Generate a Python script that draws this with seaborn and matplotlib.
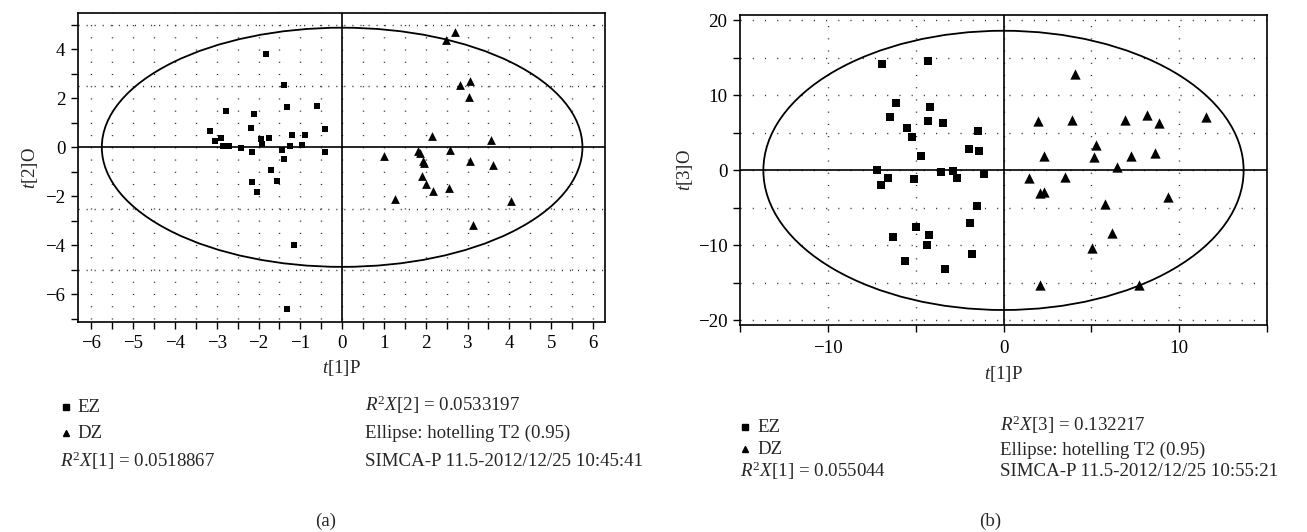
import numpy as np
import pandas as pd
import matplotlib
matplotlib.use("Agg")
import matplotlib.pyplot as plt
import seaborn as sns
from matplotlib.patches import Ellipse
from matplotlib.lines import Line2D
from matplotlib.ticker import MultipleLocator, FuncFormatter

# ---------------- data (panel a) ----------------
a_ez_x = [-1.83, -1.40, -1.31, -0.61, -2.79, -2.12, -3.17, -2.19, -0.40, -2.89, -3.03,
          -1.93, -1.76, -1.21, -0.88, -2.85, -2.71, -1.91, -1.24, -0.95, -2.41, -2.15,
          -1.45, -0.42, -1.40, -1.69, -2.15, -1.55, -2.03, -1.16, -1.31]
a_ez_y = [3.81, 2.54, 1.66, 1.69, 1.49, 1.36, 0.68, 0.80, 0.75, 0.39, 0.27,
          0.35, 0.39, 0.51, 0.51, 0.07, 0.07, 0.15, 0.07, 0.11, -0.02, -0.18,
          -0.10, -0.18, -0.46, -0.91, -1.40, -1.36, -1.81, -3.98, -6.59]
a_dz_x = [2.70, 2.48, 3.06, 2.83, 3.03, 2.15, 3.56, 2.58, 1.81, 1.87, 1.01,
          1.95, 1.93, 3.06, 3.62, 1.91, 2.01, 2.17, 2.55, 1.26, 4.04, 3.12]
a_dz_y = [4.72, 4.37, 2.72, 2.56, 2.04, 0.46, 0.29, -0.11, -0.15, -0.23, -0.34,
          -0.65, -0.55, -0.55, -0.71, -1.17, -1.49, -1.77, -1.65, -2.12, -2.19, -3.18]

# ---------------- data (panel b) ----------------
b_ez_x = [-6.92, -4.31, -6.12, -4.18, -6.48, -4.31, -3.46, -5.51, -5.21, -1.46, -4.69,
          -1.97, -1.37, -7.20, -6.59, -6.99, -5.11, -3.57, -2.88, -2.66, -1.10, -1.50,
          -1.92, -4.99, -6.29, -4.24, -4.37, -5.60, -1.80, -3.34]
b_ez_y = [14.19, 14.59, 9.01, 8.48, 7.15, 6.62, 6.35, 5.69, 4.49, 5.29, 1.97,
          2.90, 2.63, 0.11, -0.96, -1.89, -1.09, -0.16, -0.03, -0.96, -0.42, -4.68,
          -7.07, -7.60, -8.93, -8.66, -9.99, -12.12, -11.19, -13.18]
b_dz_x = [4.05, 1.96, 3.92, 6.94, 8.17, 8.86, 11.50, 5.29, 2.32, 5.13, 7.24, 8.61,
          6.46, 1.48, 3.48, 2.05, 2.32, 9.39, 5.80, 6.20, 5.04, 2.08, 7.74]
b_dz_y = [12.82, 6.53, 6.67, 6.67, 7.33, 6.35, 7.11, 3.35, 1.88, 1.75, 1.97, 2.37,
          0.51, -0.96, -0.82, -3.08, -2.82, -3.61, -4.49, -8.35, -10.30, -15.31, -15.31]

groups = ["EZ", "DZ"]
a_ellipse = (5.75, 4.88)     # semi-axes (t1, t2)
b_ellipse = (13.67, 18.6)    # semi-axes (t1, t3)

a_texts = {"r1": r"$R^2X$[1] = 0.0518867", "r2": r"$R^2X$[2] = 0.0533197",
           "ell": "Ellipse: hotelling T2 (0.95)", "sim": "SIMCA-P 11.5-2012/12/25 10:45:41"}
b_texts = {"r1": r"$R^2X$[1] = 0.055044", "r2": r"$R^2X$[3] = 0.132217",
           "ell": "Ellipse: hotelling T2 (0.95)", "sim": "SIMCA-P 11.5-2012/12/25 10:55:21"}

sns.set_style("ticks")
plt.rcParams["font.family"] = ["Liberation Serif", "DejaVu Serif"]
plt.rcParams["mathtext.fontset"] = "custom"
plt.rcParams["mathtext.rm"] = "Liberation Serif"
plt.rcParams["mathtext.it"] = "Liberation Serif:italic"
plt.rcParams["axes.unicode_minus"] = True

FS = 13.6
fig = plt.figure(figsize=(13.07, 5.32), dpi=100)
W, H = 1307, 532

def px_axes(l, t, r, b):
    return fig.add_axes([l / W, 1 - b / H, (r - l) / W, (b - t) / H])

axA = px_axes(78, 13, 605, 322)
axB = px_axes(740, 15, 1267, 325)

def make_df(ex, ey, dx, dy):
    return pd.DataFrame({"x": list(ex) + list(dx), "y": list(ey) + list(dy),
                         "group": ["EZ"] * len(ex) + ["DZ"] * len(dx)})

dfA = make_df(a_ez_x, a_ez_y, a_dz_x, a_dz_y)
dfB = make_df(b_ez_x, b_ez_y, b_dz_x, b_dz_y)

dot_color = "#333333"

def style_axes(ax, xlim, ylim):
    ax.set_xlim(*xlim)
    ax.set_ylim(*ylim)
    for s in ax.spines.values():
        s.set_visible(True)
        s.set_color("black")
        s.set_linewidth(1.2)
    ax.tick_params(axis="both", direction="out", length=5, width=1, labelsize=FS,
                   colors="black", top=False, right=False, pad=4)
    ax.axhline(0, color="black", lw=1.2, zorder=2)
    ax.axvline(0, color="black", lw=1.2, zorder=2)

def fmt_int(v, pos):
    if abs(v - round(v)) < 1e-6:
        return f"{int(round(v))}".replace("-", "\u2212")
    return ""

# ---------- panel a ----------
xlimA, ylimA = (-6.32, 6.29), (-7.13, 5.48)
style_axes(axA, xlimA, ylimA)
xs = np.arange(-6.0, 6.01, 0.5)
axA.vlines(xs, -7.0, ylimA[1], colors=dot_color, lw=1.0, linestyles=[(0, (0.8, 8.0))], zorder=1)
axA.hlines([-5, -2.5, 2.5, 5], xlimA[0], xlimA[1], colors=dot_color, lw=1.0,
           linestyles=[(0, (0.8, 5.0))], zorder=1)
axA.add_patch(Ellipse((0, 0), 2 * a_ellipse[0], 2 * a_ellipse[1], fill=False,
                      ec="black", lw=1.3, zorder=3))
sns.scatterplot(data=dfA[dfA.group == "EZ"], x="x", y="y", marker="s", color="black",
                s=18, linewidth=0, ax=axA, legend=False, zorder=4)
sns.scatterplot(data=dfA[dfA.group == "DZ"], x="x", y="y", marker="^", color="black",
                s=40, linewidth=0, ax=axA, legend=False, zorder=4)
axA.xaxis.set_major_locator(MultipleLocator(0.5))
axA.xaxis.set_major_formatter(FuncFormatter(fmt_int))
axA.yaxis.set_major_locator(MultipleLocator(1))
axA.yaxis.set_major_formatter(FuncFormatter(lambda v, p: fmt_int(v, p) if round(v) % 2 == 0 else ""))
axA.set_xlabel(r"$t$[1]P", fontsize=FS, labelpad=5)
axA.set_ylabel(r"$t$[2]O", fontsize=FS, labelpad=4)

# ---------- panel b ----------
xlimB, ylimB = (-15.0, 15.0), (-20.6, 20.7)
style_axes(axB, xlimB, ylimB)
axB.tick_params(axis="x", pad=6)
axB.vlines(np.arange(-10, 11, 5), -20.0, ylimB[1], colors=dot_color, lw=1.0,
           linestyles=[(0, (0.8, 8.0))], zorder=1)
axB.hlines(np.arange(-20, 21, 5), xlimB[0], xlimB[1], colors=dot_color, lw=1.0,
           linestyles=[(0, (0.8, 8.0))], zorder=1)
axB.add_patch(Ellipse((0, 0), 2 * b_ellipse[0], 2 * b_ellipse[1], fill=False,
                      ec="black", lw=1.3, zorder=3))
sns.scatterplot(data=dfB[dfB.group == "EZ"], x="x", y="y", marker="s", color="black",
                s=26, linewidth=0, ax=axB, legend=False, zorder=4)
sns.scatterplot(data=dfB[dfB.group == "DZ"], x="x", y="y", marker="^", color="black",
                s=55, linewidth=0, ax=axB, legend=False, zorder=4)
axB.xaxis.set_major_locator(MultipleLocator(5))
axB.xaxis.set_major_formatter(FuncFormatter(lambda v, p: fmt_int(v, p) if round(v) % 10 == 0 else ""))
axB.yaxis.set_major_locator(MultipleLocator(5))
axB.yaxis.set_major_formatter(FuncFormatter(lambda v, p: fmt_int(v, p) if round(v) % 10 == 0 else ""))
axB.set_xlabel(r"$t$[1]P", fontsize=FS, labelpad=5)
axB.set_ylabel(r"$t$[3]O", fontsize=FS, labelpad=2)

# ---------- annotations ----------
def ftext(x, y, s, **kw):
    fig.text(x / W, 1 - y / H, s, fontsize=FS, va="center", **kw)

def legend_block(mx, tx, y_ez, y_dz, r1x, y_r1, cx, ys, texts):
    fig.add_artist(Line2D([mx / W], [1 - y_ez / H], marker="s", ms=4.2, color="black",
                          lw=0, transform=fig.transFigure))
    fig.add_artist(Line2D([mx / W], [1 - y_dz / H], marker="^", ms=5, color="black",
                          lw=0, transform=fig.transFigure))
    ftext(tx, y_ez, groups[0])
    ftext(tx, y_dz, groups[1])
    ftext(r1x, y_r1, texts["r1"])
    ftext(cx, ys[0], texts["r2"])
    ftext(cx, ys[1], texts["ell"])
    ftext(cx, ys[2], texts["sim"])

legend_block(66, 77, 407, 433, 60, 461, 365, (405, 433, 462), a_texts)
legend_block(745, 757, 427, 449, 740, 471, 1000, (425, 450, 472), b_texts)
ftext(326, 521, "(a)", ha="center")
ftext(990, 521, "(b)", ha="center")

fig.savefig("out.png", dpi=100)
